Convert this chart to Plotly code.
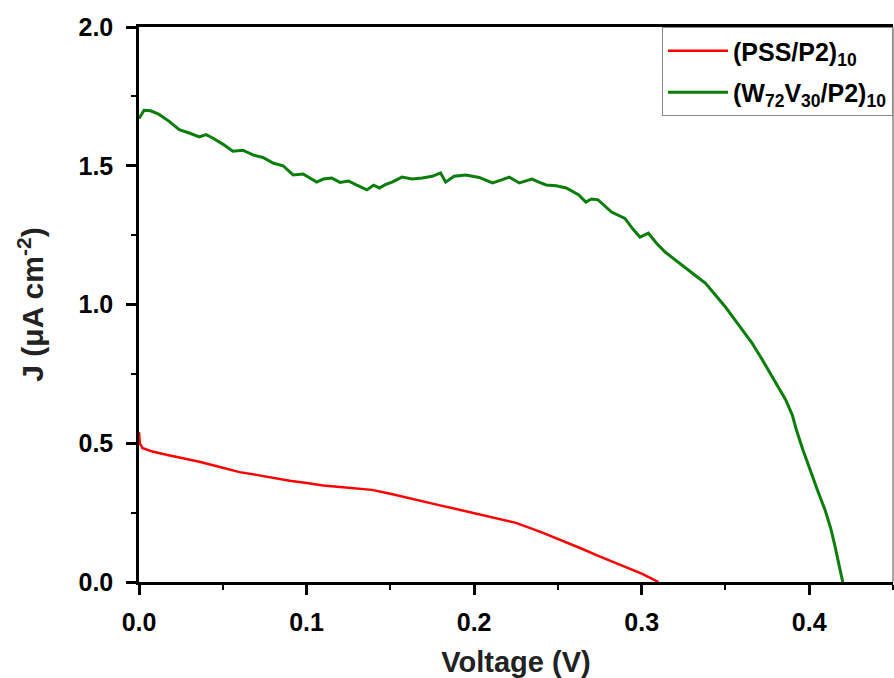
import plotly.graph_objects as go

# Data
pss_voltage = [0.000, 0.0005, 0.002, 0.008, 0.017, 0.027, 0.036, 0.050, 0.060, 0.070,
               0.080, 0.090, 0.100, 0.110, 0.120, 0.130, 0.139, 0.150, 0.160, 0.170,
               0.179, 0.188, 0.197, 0.210, 0.225, 0.240, 0.250, 0.257, 0.265, 0.273,
               0.283, 0.292, 0.300, 0.306, 0.310]
pss_current = [0.540, 0.500, 0.483, 0.470, 0.458, 0.445, 0.433, 0.412, 0.396, 0.386,
               0.375, 0.365, 0.357, 0.348, 0.342, 0.337, 0.332, 0.318, 0.303, 0.290,
               0.277, 0.265, 0.252, 0.235, 0.213, 0.180, 0.155, 0.140, 0.118, 0.097,
               0.073, 0.050, 0.030, 0.012, 0.000]

wv_voltage = [0.000, 0.003, 0.007, 0.012, 0.018, 0.024, 0.030, 0.036, 0.040, 0.044,
              0.050, 0.056, 0.062, 0.068, 0.074, 0.080, 0.086, 0.092, 0.098, 0.103,
              0.106, 0.110, 0.115, 0.120, 0.125, 0.130, 0.136, 0.140, 0.1435, 0.147,
              0.151, 0.157, 0.163, 0.169, 0.175, 0.180, 0.183, 0.188, 0.195, 0.203,
              0.211, 0.216, 0.221, 0.227, 0.2345, 0.239, 0.243, 0.249, 0.255, 0.2625,
              0.2667, 0.270, 0.274, 0.282, 0.286, 0.290, 0.295, 0.299, 0.304, 0.309,
              0.314, 0.320, 0.328, 0.333, 0.338, 0.344, 0.350, 0.355, 0.360, 0.366,
              0.371, 0.377, 0.382, 0.386, 0.390, 0.392, 0.396, 0.401, 0.405, 0.4095,
              0.413, 0.4155, 0.418, 0.420]
wv_current = [1.670, 1.700, 1.698, 1.685, 1.660, 1.630, 1.618, 1.604, 1.612, 1.600,
              1.578, 1.552, 1.556, 1.539, 1.530, 1.510, 1.500, 1.467, 1.470, 1.452,
              1.441, 1.452, 1.456, 1.440, 1.445, 1.430, 1.413, 1.430, 1.420, 1.432,
              1.441, 1.459, 1.452, 1.456, 1.462, 1.474, 1.441, 1.462, 1.467, 1.458,
              1.438, 1.448, 1.459, 1.438, 1.452, 1.440, 1.431, 1.428, 1.420, 1.395,
              1.369, 1.380, 1.377, 1.333, 1.322, 1.310, 1.270, 1.243, 1.257, 1.220,
              1.189, 1.160, 1.124, 1.100, 1.077, 1.035, 0.991, 0.950, 0.908, 0.860,
              0.811, 0.750, 0.700, 0.656, 0.600, 0.555, 0.480, 0.393, 0.330, 0.259,
              0.190, 0.126, 0.060, 0.000]

x_ticks = [0.0, 0.1, 0.2, 0.3, 0.4]
y_ticks = [0.0, 0.5, 1.0, 1.5, 2.0]

FONT = "Liberation Sans, Arial, sans-serif"

fig = go.Figure()
fig.add_trace(go.Scatter(x=pss_voltage, y=pss_current, mode="lines",
                         name="<b>(PSS/P2)<sub>10</sub></b>", legendgroup="a",
                         line=dict(color="#ff0000", width=2.5)))
fig.add_trace(go.Scatter(x=wv_voltage, y=wv_current, mode="lines",
                         name="<b>(W<sub>72</sub>V<sub>30</sub>/P2)<sub>10</sub></b>", legendgroup="b",
                         line=dict(color="#0a7d0a", width=3)))

fig.update_layout(
    width=894, height=678,
    margin=dict(l=139, r=1, t=27, b=96),
    paper_bgcolor="white", plot_bgcolor="white",
    font=dict(family=FONT, color="black"),
    showlegend=True,
    legend=dict(x=1, y=1, xanchor="right", yanchor="top",
                bgcolor="white", bordercolor="#888888", borderwidth=1,
                font=dict(family=FONT, size=25, color="black"),
                traceorder="grouped", tracegroupgap=6, itemwidth=60),
    xaxis=dict(range=[0, 0.45], tickvals=x_ticks,
               ticktext=[f"<b>{v:.1f}</b>" for v in x_ticks],
               showgrid=False, zeroline=False,
               showline=True, linecolor="black", linewidth=2.5, mirror=True,
               ticks="outside", ticklen=10, tickwidth=2.5, tickcolor="black",
               ticklabelstandoff=6,
               minor=dict(dtick=0.05, ticks="outside", ticklen=5, tickwidth=2, tickcolor="black"),
               tickfont=dict(family=FONT, size=25, color="black"),
               title=dict(text="<b>Voltage (V)</b>", font=dict(family=FONT, size=29, color="#222"),
                          standoff=20)),
    yaxis=dict(range=[0, 2.0], tickvals=y_ticks,
               ticktext=[f"<b>{v:.1f}</b>" for v in y_ticks],
               showgrid=False, zeroline=False,
               showline=True, linecolor="black", linewidth=2.5, mirror=False,
               ticks="outside", ticklen=10, tickwidth=2.5, tickcolor="black",
               ticklabelstandoff=8,
               minor=dict(dtick=0.25, ticks="outside", ticklen=5, tickwidth=2, tickcolor="black"),
               tickfont=dict(family=FONT, size=25, color="black"),
               title=dict(text="<b>J (μA cm<sup>-2</sup>)</b>", font=dict(family=FONT, size=30, color="#222"),
                          standoff=26)),
    shapes=[dict(type="line", xref="paper", yref="paper", x0=1, x1=1, y0=0, y1=1,
                 line=dict(color="#888888", width=1.5))],
)

fig.write_html("out.html", config={"displayModeBar": False},
               post_script="document.body.style.margin='0px';document.body.style.overflow='hidden';")
